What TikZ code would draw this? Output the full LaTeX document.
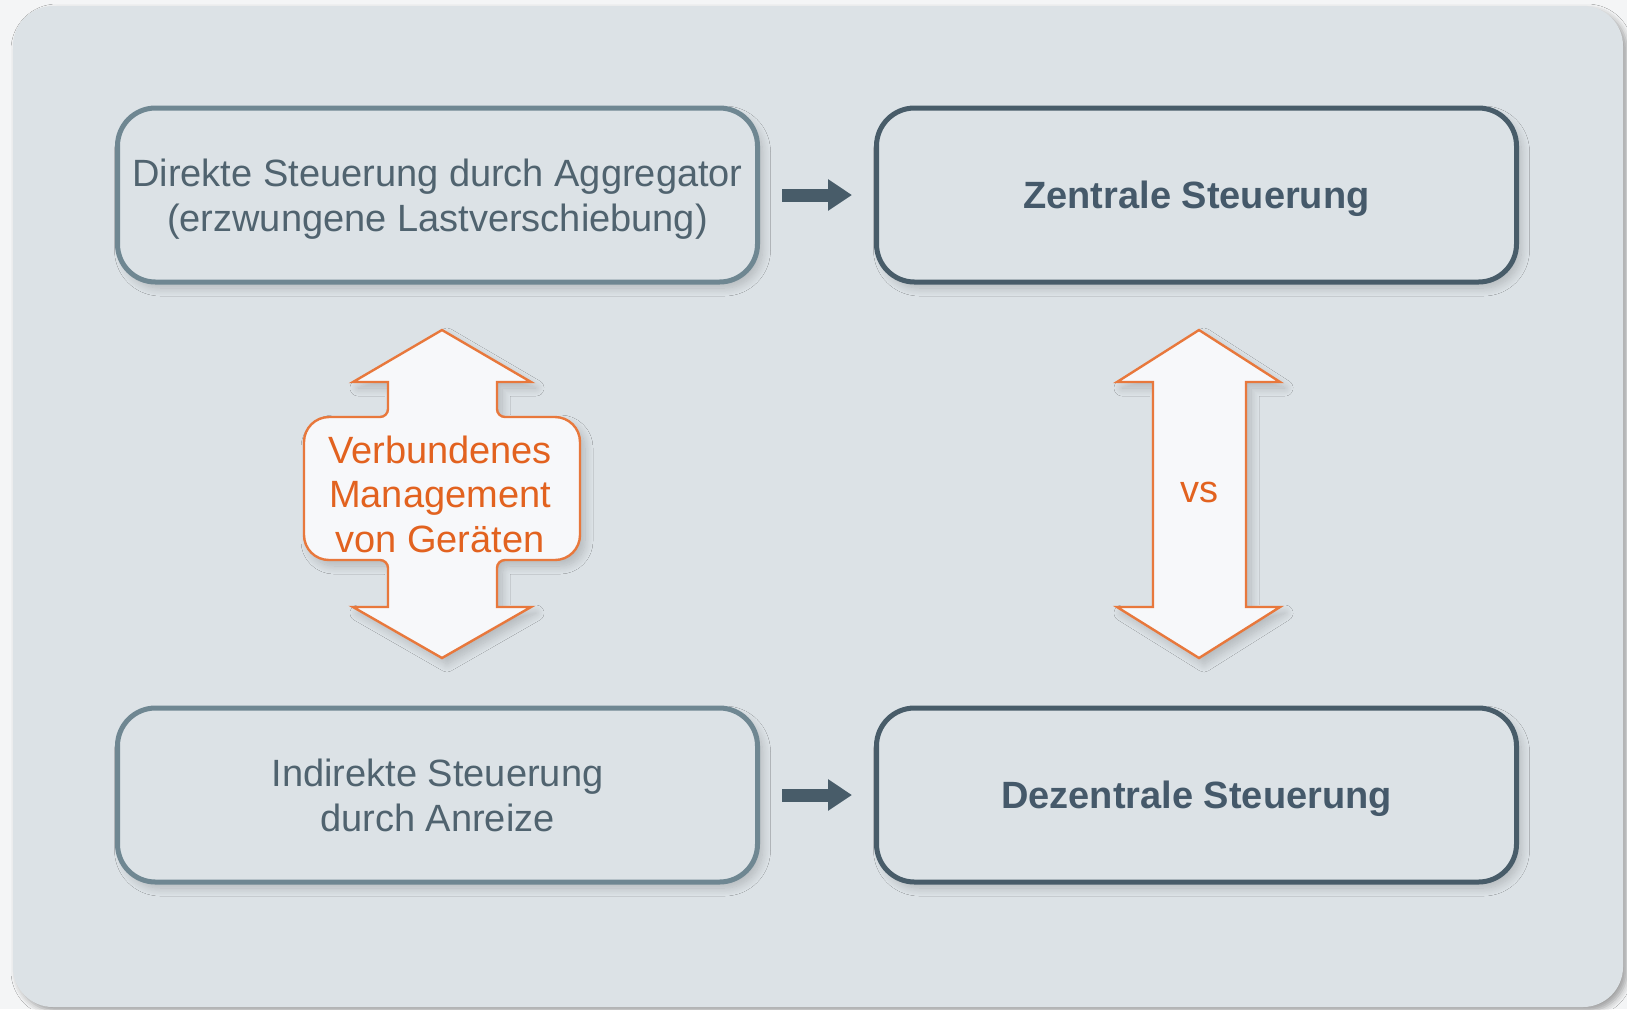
\documentclass[tikz,border=0pt]{standalone}
\usepackage{fontspec}
\setmainfont{Liberation Sans}
\usetikzlibrary{arrows.meta,shadows.blur}
\definecolor{pagebg}{HTML}{F4F5F6}
\definecolor{panel}{HTML}{DCE2E6}
\definecolor{lightedge}{HTML}{6F8792}
\definecolor{darkedge}{HTML}{485C69}
\definecolor{txt}{HTML}{50636F}
\definecolor{boldtxt}{HTML}{45596A}
\definecolor{orng}{HTML}{E8783C}
\definecolor{orngtxt}{HTML}{E2621F}
\definecolor{arrfill}{HTML}{F7F8FA}
\begin{document}
\begin{tikzpicture}[x=0.5pt,y=-0.5pt,
  font=\fontsize{19pt}{22.3pt}\selectfont,
  softshadow/.style={blur shadow={shadow xshift=2.5pt, shadow yshift=-3pt, shadow blur radius=4pt, shadow blur steps=10, shadow opacity=18}},
  box/.style={draw, rounded corners=19pt, line width=2.5pt, fill=panel,
    minimum width=320pt, minimum height=87pt, align=center, text=txt, text depth=0pt, softshadow},
  lightbox/.style={box, draw=lightedge},
  darkbox/.style={box, draw=darkedge, text=boldtxt, font=\fontsize{19pt}{22.3pt}\selectfont\bfseries},
  dblarrow/.style={draw=orng, line width=1.2pt, fill=arrfill, line join=miter, softshadow},
  flowarrow/.style={draw=darkedge, line width=6.5pt, -{Triangle[length=12pt,width=15pt]}},
  orangetext/.style={text=orngtxt, align=center}
]
\fill[pagebg] (0,0) rectangle (1627,1009);
\useasboundingbox (0,0) rectangle (1627,1009);
\fill[panel, rounded corners=20pt, blur shadow={shadow xshift=2pt, shadow yshift=-2pt, shadow blur radius=3pt, shadow opacity=35}] (13,6) rectangle (1623,1007);

\node[lightbox] (direkt) at (437.5,195) {Direkte Steuerung durch Aggregator\\(erzwungene Lastverschiebung)};
\node[darkbox] (zentral) at (1196.5,195) {Zentrale Steuerung};
\node[lightbox] (indirekt) at (437.5,795) {Indirekte Steuerung\\durch Anreize};
\node[darkbox] (dezentral) at (1196.5,795) {Dezentrale Steuerung};

\draw[flowarrow] ([xshift=11pt]direkt.east) -- ([xshift=-11pt]zentral.west);
\draw[flowarrow] ([xshift=11pt]indirekt.east) -- ([xshift=-11pt]dezentral.west);

% left double arrow with rounded label box
\draw[dblarrow] (442,330) -- (531,382) -- (497,382) -- (497,409)
  arc[start angle=180, end angle=90, radius=8] -- (555,417)
  arc[start angle=-90, end angle=0, radius=25] -- (580,535)
  arc[start angle=0, end angle=90, radius=25] -- (505,560)
  arc[start angle=270, end angle=180, radius=8] -- (497,607) -- (531,607)
  -- (442,658) -- (353,607) -- (388,607) -- (388,568)
  arc[start angle=0, end angle=-90, radius=8] -- (329,560)
  arc[start angle=90, end angle=180, radius=25] -- (304,442)
  arc[start angle=180, end angle=270, radius=25] -- (380,417)
  arc[start angle=90, end angle=0, radius=8] -- (388,382) -- (353,382) -- cycle;
\node[orangetext] (mgmt) at (440,494) {Verbundenes\\Management\\von Geräten};

% right double arrow
\draw[dblarrow] (1199,330) -- (1280,382) -- (1246,382) -- (1246,607) -- (1280,607)
  -- (1199,658) -- (1117,607) -- (1153,607) -- (1153,382) -- (1117,382) -- cycle;
\node[orangetext] (vs) at (1199,492) {vs};
\end{tikzpicture}
\end{document}
